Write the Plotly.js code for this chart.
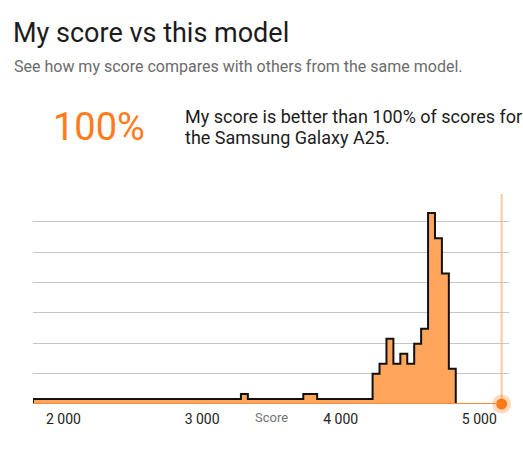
<!DOCTYPE html>
<html>
<head>
<meta charset="utf-8">
<script src="https://cdn.plot.ly/plotly-3.0.1.min.js"></script>
<style>
html, body { margin: 0; padding: 0; background: #fff; overflow: hidden; }
#chart { width: 523px; height: 451px; }
</style>
</head>
<body>
<div id="chart"></div>
<script>
// Histogram bins (lower edge of each 50-point bin) and counts
const binStarts = [1780,1830,1880,1930,1980,2030,2080,2130,2180,2230,2280,2330,2380,2430,2480,2530,2580,2630,2680,2730,2780,2830,2880,2930,2980,3030,3080,3130,3180,3230,3280,3330,3380,3430,3480,3530,3580,3630,3680,3730,3780,3830,3880,3930,3980,4030,4080,4130,4180,4230,4280,4330,4380,4430,4480,4530,4580,4630,4680,4730,4780];
const binWidth = 50;
const counts = [1,1,1,1,1,1,1,1,1,1,1,1,1,1,1,1,1,1,1,1,1,1,1,1,1,1,1,1,1,1,2,1,1,1,1,1,1,1,1,2,2,1,1,1,1,1,1,1,1,6,8,13,8,10,8,12,15,38,33,26,7];
const myScore = 5161;
const percentile = "100%";
const modelName = "Samsung Galaxy A25";
const tickVals = [2000, 3000, 4000, 5000];
const tickText = ["2 000", "3 000", "4 000", "5 000"];

// Build step outline from bins
const stepX = [binStarts[0]];
const stepY = [0];
for (let i = 0; i < binStarts.length; i++) {
  stepX.push(binStarts[i]);
  stepY.push(counts[i]);
}
stepX.push(binStarts[binStarts.length - 1] + binWidth);
stepY.push(0);

const maxCount = Math.max(...counts);
const xMin = binStarts[0];
const xMax = 5214;

const traces = [
  {
    type: 'scatter', mode: 'lines', x: stepX, y: stepY,
    line: { shape: 'hv', color: '#111111', width: 2 },
    fill: 'tozeroy', fillcolor: '#FFA65C',
    hoverinfo: 'skip', showlegend: false
  },
  {
    type: 'scatter', mode: 'markers', x: [myScore], y: [0],
    marker: { size: 19, color: 'rgba(255,122,20,0.28)' },
    cliponaxis: false, hoverinfo: 'skip', showlegend: false
  },
  {
    type: 'scatter', mode: 'markers', x: [myScore], y: [0],
    marker: { size: 11, color: '#FF7A14' },
    cliponaxis: false, hoverinfo: 'skip', showlegend: false
  }
];

const W = 523, H = 451, L = 33, R = 14, T = 194, B = 47;
const pw = W - L - R, ph = H - T - B;
const px = v => (v - L) / pw;
const py = v => (H - B - v) / ph;

const layout = {
  width: W, height: H,
  margin: { l: L, r: R, t: T, b: B, pad: 0 },
  paper_bgcolor: '#ffffff', plot_bgcolor: '#ffffff',
  font: { family: 'Roboto, sans-serif', color: '#222222' },
  showlegend: false,
  title: {
    text: 'My score vs this model',
    font: { family: 'Roboto, sans-serif', size: 27, color: '#1c1c1c' },
    xref: 'container', yref: 'container',
    x: 13 / W, xanchor: 'left', y: 1 - 33 / H, yanchor: 'middle'
  },
  xaxis: {
    range: [xMin, xMax], showgrid: false, zeroline: false, showline: false,
    tickvals: tickVals, ticktext: tickText,
    ticks: 'outside', ticklen: 2, tickcolor: 'rgba(0,0,0,0)',
    tickfont: { size: 14, color: '#222222' }, fixedrange: true
  },
  yaxis: {
    range: [0, maxCount * 1.1], dtick: 6.05, tick0: 0,
    showgrid: true, gridcolor: '#c6c6c6', gridwidth: 1,
    zeroline: false, showline: false, showticklabels: false, ticks: '', fixedrange: true
  },
  shapes: [
    { type: 'line', xref: 'x', yref: 'paper', x0: myScore, x1: myScore, y0: 0, y1: 1,
      line: { color: '#FDC9A0', width: 2 }, layer: 'below' },
    { type: 'line', xref: 'x', yref: 'y', x0: xMin, x1: myScore, y0: 0, y1: 0,
      line: { color: '#FF8A33', width: 2 }, layer: 'above' }
  ],
  annotations: [
    { text: 'See how my score compares with others from the same model.', xref: 'paper', yref: 'paper',
      x: px(12), y: py(67), xanchor: 'left', yanchor: 'middle', showarrow: false,
      font: { size: 16, color: '#6b6b6b' } },
    { text: percentile, xref: 'paper', yref: 'paper',
      x: px(51), y: py(127), xanchor: 'left', yanchor: 'middle', showarrow: false,
      font: { size: 38, color: '#FF7B1C' } },
    { text: 'My score is better than ' + percentile + ' of scores for', xref: 'paper', yref: 'paper',
      x: px(183), y: py(116), xanchor: 'left', yanchor: 'middle', showarrow: false,
      font: { size: 18, color: '#1c1c1c' } },
    { text: 'the ' + modelName + '.', xref: 'paper', yref: 'paper',
      x: px(183), y: py(137), xanchor: 'left', yanchor: 'middle', showarrow: false,
      font: { size: 18, color: '#1c1c1c' } },
    { text: 'Score', xref: 'paper', yref: 'paper',
      x: 0.5, y: py(417), xanchor: 'center', yanchor: 'middle', showarrow: false,
      font: { size: 13, color: '#757575' } }
  ]
};

Plotly.newPlot('chart', traces, layout, { displayModeBar: false, staticPlot: true });
</script>
</body>
</html>
